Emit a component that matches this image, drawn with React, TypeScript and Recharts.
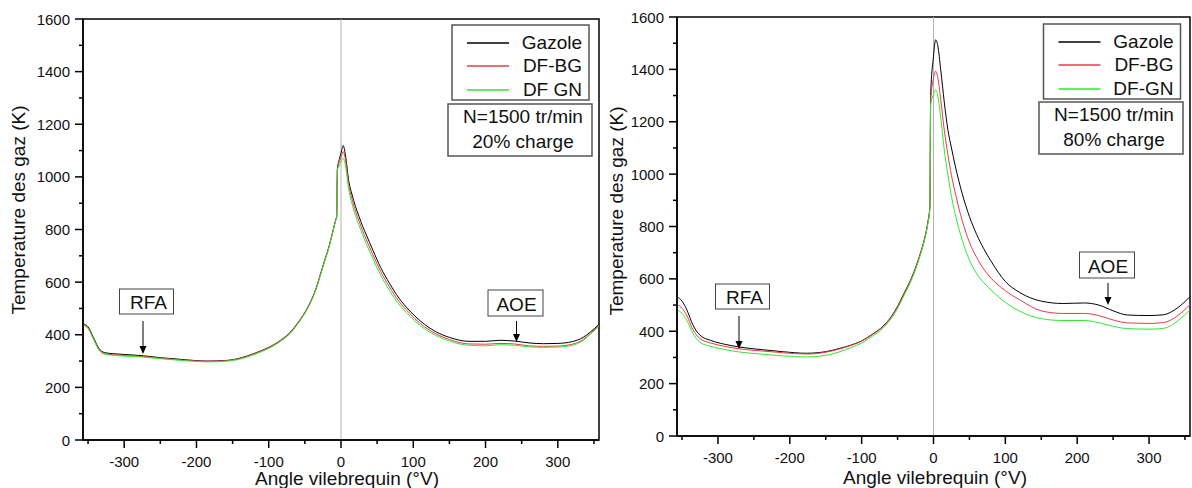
import React from 'react';
import { LineChart, Line, XAxis, YAxis, ReferenceLine, ReferenceArea } from 'recharts';

const FONT = '"Liberation Sans", Arial, Helvetica, sans-serif';

// ---- 20% charge (left panel) ----
const angles20 = [
  -357, -350, -343, -335, -327, -315, -300, -273, -250, -220, -185, -160, -140, -119, -100, -82, -70, -60,
  -50, -41, -34, -28, -22, -18, -12, -7, -6, -5, -2, 0, 3, 6, 11, 15, 20, 25, 30, 35, 44, 55, 67, 80, 94,
  110, 131, 150, 177, 200, 220, 240, 260, 280, 300, 320, 335, 345, 357,
];
const gazole20 = [
  442, 430, 392, 348, 332, 328, 325, 320, 313, 306, 300, 302, 311, 330, 352, 382, 410, 444,
  485, 532, 580, 634, 688, 722, 785, 840, 849, 1030, 1070, 1090, 1119, 1085, 980, 935, 888, 849, 812, 780, 722, 655, 596, 540, 494,
  452, 412, 390, 375, 375, 379, 376, 369, 366, 367, 374, 390, 410, 440,
];
const dfbg20 = [
  438, 426, 388, 344, 328, 324, 321, 317, 311, 304, 299, 301, 310, 329, 351, 381, 409, 443,
  484, 531, 579, 633, 687, 721, 784, 839, 848, 1028, 1060, 1075, 1096, 1068, 965, 918, 870, 832, 795, 762, 705, 640, 582, 528, 484,
  442, 404, 382, 365, 364, 367, 365, 358, 356, 357, 364, 382, 405, 436,
];
const dfgn20 = [
  436, 424, 386, 342, 326, 322, 319, 315, 309, 302, 297, 299, 307, 326, 348, 378, 406, 440,
  481, 528, 576, 630, 684, 718, 781, 836, 845, 1025, 1045, 1058, 1071, 1045, 948, 900, 853, 815, 780, 746, 690, 626, 569, 517, 474,
  434, 398, 376, 360, 358, 362, 360, 354, 352, 353, 360, 378, 402, 432,
];

// ---- 80% charge (right panel) ----
const angles80 = [
  -357, -350, -343, -335, -325, -310, -290, -271, -240, -210, -177, -150, -130, -115, -100, -87, -70, -59,
  -50, -41, -32, -24, -18, -13, -8, -5, -4, 0, 3, 6, 10, 15, 20, 25, 30, 40, 50, 60, 70, 80, 100, 120, 150,
  180, 210, 230, 250, 270, 300, 320, 340, 357,
];
const gazole80 = [
  532, 515, 480, 425, 385, 365, 350, 340, 330, 322, 316, 322, 335, 347, 363, 385, 420, 455,
  495, 545, 595, 650, 700, 748, 815, 878, 1300, 1450, 1513, 1490, 1400, 1275, 1170, 1100, 1035, 925, 838, 770, 715, 668, 590, 548, 515,
  506, 508, 500, 478, 462, 460, 463, 490, 532,
];
const dfbg80 = [
  502, 488, 458, 407, 372, 355, 342, 333, 325, 318, 313, 320, 333, 346, 362, 384, 418, 453,
  492, 542, 592, 647, 697, 745, 812, 875, 1280, 1365, 1393, 1368, 1285, 1168, 1075, 995, 932, 822, 740, 682, 637, 603, 555, 520, 478,
  468, 468, 460, 443, 432, 430, 433, 460, 502,
];
const dfgn80 = [
  482, 468, 440, 392, 358, 342, 330, 321, 313, 306, 302, 308, 322, 338, 355, 378, 412, 448,
  487, 537, 588, 643, 694, 742, 808, 870, 1262, 1305, 1322, 1298, 1218, 1092, 998, 915, 850, 748, 672, 620, 585, 558, 510, 477, 448,
  441, 441, 433, 419, 410, 408, 411, 440, 482,
];

const names20 = ['Gazole', 'DF-BG', 'DF GN'];
const names80 = ['Gazole', 'DF-BG', 'DF-GN'];
const colors = ['#000000', '#ec3a48', '#34e634'];

const xTicks = [-350, -300, -250, -200, -150, -100, -50, 0, 50, 100, 150, 200, 250, 300, 350];
const yTicks = [0, 100, 200, 300, 400, 500, 600, 700, 800, 900, 1000, 1100, 1200, 1300, 1400, 1500, 1600];

const toRows = (angles: number[], a: number[], b: number[], c: number[]) =>
  angles.map((angle, i) => ({ angle, s0: a[i], s1: b[i], s2: c[i] }));

const YTick = (props: any) => {
  const { x, y, payload } = props;
  const major = payload.value % 200 === 0;
  return (
    <g>
      <line x1={x} x2={x - (major ? 8 : 4)} y1={y} y2={y} stroke="#000" strokeWidth={1.5} />
      {major && (
        <text x={x - 13} y={y} textAnchor="end" dominantBaseline="central" fontSize={15} fontFamily={FONT} fill="#111">
          {payload.value}
        </text>
      )}
    </g>
  );
};

const XTick = (props: any) => {
  const { x, y, payload } = props;
  const major = payload.value % 100 === 0;
  return (
    <g>
      <line x1={x} x2={x} y1={y} y2={y + (major ? 8 : 4)} stroke="#000" strokeWidth={1.5} />
      {major && (
        <text x={x} y={y + 27} textAnchor="middle" fontSize={15} fontFamily={FONT} fill="#111">
          {payload.value}
        </text>
      )}
    </g>
  );
};

function Panel({ rows, left, width, top, xAxisH, yAxisW, mRight }: any) {
  return (
    <div style={{ position: 'absolute', left, top: 0 }}>
      <LineChart width={width} height={488} data={rows} margin={{ top, right: mRight, bottom: 0, left: 0 }}>
        <XAxis
          dataKey="angle"
          type="number"
          domain={[-357, 357]}
          allowDataOverflow
          ticks={xTicks}
          interval={0}
          height={xAxisH}
          tickSize={0}
          tickMargin={0}
          tickLine={false}
          tick={<XTick />}
          axisLine={{ stroke: '#000', strokeWidth: 1.5 }}
        />
        <YAxis
          type="number"
          domain={[0, 1600]}
          ticks={yTicks}
          interval={0}
          width={yAxisW}
          tickSize={0}
          tickMargin={0}
          tickLine={false}
          tick={<YTick />}
          axisLine={{ stroke: '#000', strokeWidth: 1.5 }}
        />
        <ReferenceArea x1={-357} x2={357} y1={0} y2={1600} fill="none" stroke="#000" strokeWidth={1.5} />
        <ReferenceLine x={0} stroke="#b4b4b4" strokeWidth={1} />
        <Line type="monotone" dataKey="s0" stroke={colors[0]} strokeWidth={1} dot={false} isAnimationActive={false} />
        <Line type="monotone" dataKey="s1" stroke={colors[1]} strokeWidth={1} dot={false} isAnimationActive={false} />
        <Line type="monotone" dataKey="s2" stroke={colors[2]} strokeWidth={1} dot={false} isAnimationActive={false} />
      </LineChart>
    </div>
  );
}

function Notes({ yTitle, xTitle, legend, names, info, infoText, rfa, aoe }: any) {
  const txt = { fontFamily: FONT, fill: '#111' };
  const rowsY = [17.5, 40.5, 64.5];
  const arrow = (x: number, y1: number, y2: number) => (
    <g>
      <line x1={x} x2={x} y1={y1} y2={y2 - 6} stroke="#000" strokeWidth={1} />
      <path d={`M${x - 3.5},${y2 - 8} L${x + 3.5},${y2 - 8} L${x},${y2} Z`} fill="#000" />
    </g>
  );
  return (
    <g>
      <text
        x={yTitle[0]}
        y={yTitle[1]}
        transform={`rotate(-90 ${yTitle[0]} ${yTitle[1]})`}
        textAnchor="middle"
        fontSize={19}
        {...txt}
      >
        Temperature des gaz (K)
      </text>
      <text x={xTitle[0]} y={xTitle[1]} textAnchor="middle" fontSize={19} {...txt}>
        Angle vilebrequin (°V)
      </text>

      <rect x={legend[0]} y={legend[1]} width={137} height={75} fill="#fff" stroke="#555" strokeWidth={1.5} />
      {names.map((n: string, i: number) => (
        <g key={n}>
          <line
            x1={legend[0] + 15}
            x2={legend[0] + 57}
            y1={Math.round(legend[1] + rowsY[i])}
            y2={Math.round(legend[1] + rowsY[i])}
            stroke={colors[i]}
            strokeWidth={1.5}
          />
          <text x={legend[0] + 130} y={legend[1] + rowsY[i] + 6.5} textAnchor="end" fontSize={19} {...txt}>
            {n}
          </text>
        </g>
      ))}

      <rect x={info[0]} y={info[1]} width={144} height={52} fill="#fff" stroke="#555" strokeWidth={1.5} />
      <text x={info[0] + 75} y={info[1] + 19} textAnchor="middle" fontSize={19} {...txt}>
        N=1500 tr/min
      </text>
      <text x={info[0] + 75} y={info[1] + 44} textAnchor="middle" fontSize={19} {...txt}>
        {infoText}
      </text>

      <rect x={rfa[0]} y={rfa[1]} width={54} height={25} fill="#fff" stroke="#444" strokeWidth={1} />
      <text x={rfa[0] + 29} y={rfa[1] + 20} textAnchor="middle" fontSize={19} {...txt}>
        RFA
      </text>
      {arrow(rfa[0] + 23.5, rfa[1] + 32, rfa[1] + 65)}

      <rect x={aoe[0]} y={aoe[1]} width={55} height={26} fill="#fff" stroke="#444" strokeWidth={1} />
      <text x={aoe[0] + 28.5} y={aoe[1] + 20.5} textAnchor="middle" fontSize={19} {...txt}>
        AOE
      </text>
      {arrow(aoe[0] + 28.5, aoe[1] + 31, aoe[3])}
    </g>
  );
}

export default function App() {
  const rows20 = toRows(angles20, gazole20, dfbg20, dfgn20);
  const rows80 = toRows(angles80, gazole80, dfbg80, dfgn80);
  return (
    <div
      style={{
        position: 'fixed',
        left: 0,
        top: 0,
        width: 1192,
        height: 488,
        overflow: 'hidden',
        background: '#fff',
        fontFamily: FONT,
      }}
    >
      <Panel rows={rows20} left={0} width={600} top={19} xAxisH={48} yAxisW={83} mRight={1} />
      <Panel rows={rows80} left={596} width={596} top={17} xAxisH={52} yAxisW={81} mRight={2} />
      <svg width={1192} height={488} style={{ position: 'absolute', left: 0, top: 0, pointerEvents: 'none' }}>
        <Notes
          yTitle={[25, 210]}
          xTitle={[347, 485]}
          legend={[452, 25]}
          names={names20}
          info={[448, 104]}
          infoText="20% charge"
          rfa={[119.5, 289]}
          aoe={[488, 290, 0, 342]}
        />
        <Notes
          yTitle={[623, 211]}
          xTitle={[935, 484]}
          legend={[1043.5, 24]}
          names={names80}
          info={[1039, 102]}
          infoText="80% charge"
          rfa={[715.5, 284]}
          aoe={[1079.5, 252, 0, 305]}
        />
      </svg>
    </div>
  );
}
